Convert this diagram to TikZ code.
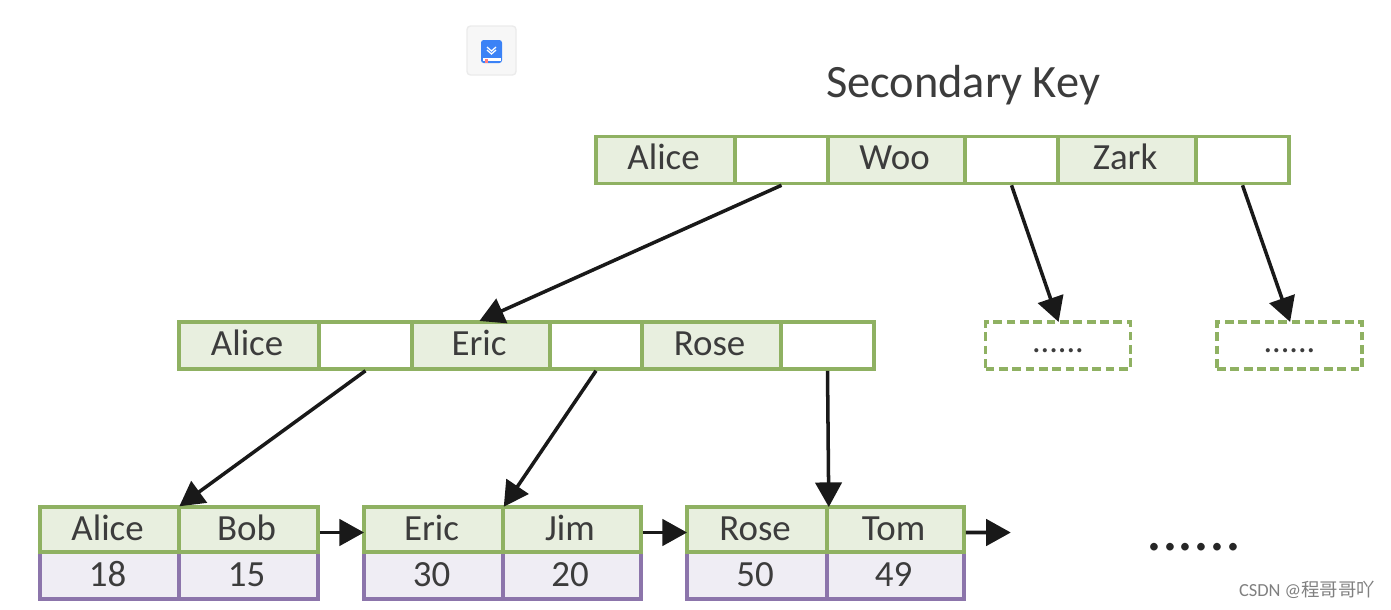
\documentclass[tikz,border=0pt]{standalone}
\usepackage{fontspec}
\setmainfont{Carlito}
\newfontfamily\cjkfont{Noto Sans CJK SC}
\usetikzlibrary{arrows.meta}
\definecolor{keygreen}{HTML}{8FB162}
\definecolor{keyfill}{HTML}{E8EFDF}
\definecolor{valpurple}{HTML}{8C75AB}
\definecolor{valfill}{HTML}{EFEDF4}
\definecolor{inkgray}{HTML}{3C3C3C}
\definecolor{bookblue}{HTML}{3B82F6}
\begin{document}
\begin{tikzpicture}[x=0.02cm,y=-0.02cm,
    keycell/.style={draw=keygreen,fill=keyfill,line width=2pt,inner sep=0,text=inkgray,
        font=\fontsize{21}{21}\selectfont,text height=13pt,text depth=2pt,execute at end node={\kern2.2pt}},
    ptrcell/.style={keycell,fill=white},
    leafcell/.style={keycell,text depth=0pt},
    valcell/.style={leafcell,draw=valpurple,fill=valfill},
    stubcell/.style={draw=keygreen,line width=2pt,dash pattern=on 5pt off 2.6pt,inner sep=0,
        minimum width=145*0.02cm,minimum height=47*0.02cm,text=inkgray,text height=8pt,text depth=0pt,
        font=\fontsize{19.5}{19.5}\selectfont},
    link/.style={-{Triangle[length=14pt,width=15pt]},line width=2pt,draw=black!90,shorten >=-1pt}]

    \useasboundingbox (0,0) rectangle (1391,609);

    % doc icon
    \node [draw=black!8,fill=black!3,rounded corners=2pt,line width=0.8pt,minimum size=49*0.02cm,inner sep=0] (iconbox) at (491.5,50.5) {};
    \fill [bookblue,rounded corners=1.5pt] (481,40) rectangle (502,63);
    \fill [white] (483,58) rectangle (501,61);
    \fill [red!50!white] (485,59) rectangle (488,63);
    \draw [white,line width=0.7pt] (487,47) -- (491.5,51) -- (496,47) (487,50) -- (491.5,54) -- (496,50);

    \node [text=inkgray,font=\fontsize{26.4}{26.4}\selectfont] (title) at (963,85) {Secondary Key};

    % top row
    \foreach \name/\xa/\xb/\txt/\sty in {topa/596/735/Alice/keycell,topb/735/828//ptrcell,topc/828/965/Woo/keycell,
        topd/965/1058//ptrcell,tope/1058/1196/Zark/keycell,topf/1196/1289//ptrcell}
        \node [\sty,minimum width={(\xb-\xa)*0.02cm},minimum height=47*0.02cm] (\name) at ({(\xa+\xb)/2},160) {\txt};

    % middle row
    \foreach \name/\xa/\xb/\txt/\sty in {mida/179/319/Alice/keycell,midb/319/412//ptrcell,midc/412/550/Eric/keycell,
        midd/550/642//ptrcell,mide/642/781/Rose/keycell,midf/781/874//ptrcell}
        \node [\sty,minimum width={(\xb-\xa)*0.02cm},minimum height=47*0.02cm] (\name) at ({(\xa+\xb)/2},345.5) {\txt};

    \node [stubcell] (stuba) at (1058,345.5) {......};
    \node [stubcell] (stubb) at (1289.5,345.5) {......};

    % leaf row
    \foreach \name/\xa/\xb/\txt/\val in {lfa/40/179/Alice/18,lfb/179/318/Bob/15,lfc/364/503/Eric/30,
        lfd/503/641/Jim/20,lfe/687/827/Rose/50,lff/827/964/Tom/49}
        {\node [valcell,minimum width={(\xb-\xa)*0.02cm},minimum height=47*0.02cm] (\name v) at ({(\xa+\xb)/2},575.5) {\val};
        \node [leafcell,minimum width={(\xb-\xa)*0.02cm},minimum height=45*0.02cm] (\name) at ({(\xa+\xb)/2},529.5) {\txt};}

    \coordinate (lfend) at (1009,532.5);
    \node [text=black!85,font=\fontsize{36}{36}\selectfont,inner sep=0] (more) at (1194,547) {......};
    \node [text=black!50,font=\fontsize{10.5}{10.5}\selectfont,inner sep=0] (mark) at (1307,590) {CSDN @{\cjkfont 程哥哥吖}};

    % links
    \draw [link] (topb.south) -- (midc.north);
    \draw [link] (topd.south) -- (stuba.north);
    \draw [link] (topf.south) -- (stubb.north);
    \draw [link] (midb.south) -- (lfa.north east);
    \draw [link] (midd.south) -- (lfc.north east);
    \draw [link] (midf.south) -- (lfe.north east);
    \draw [link] ([yshift=-1.7pt]lfb.east) -- ([yshift=-1.7pt]lfc.west);
    \draw [link] ([yshift=-1.7pt]lfd.east) -- ([yshift=-1.7pt]lfe.west);
    \draw [link] ([yshift=-1.7pt]lff.east) -- (lfend);

\end{tikzpicture}
\end{document}
